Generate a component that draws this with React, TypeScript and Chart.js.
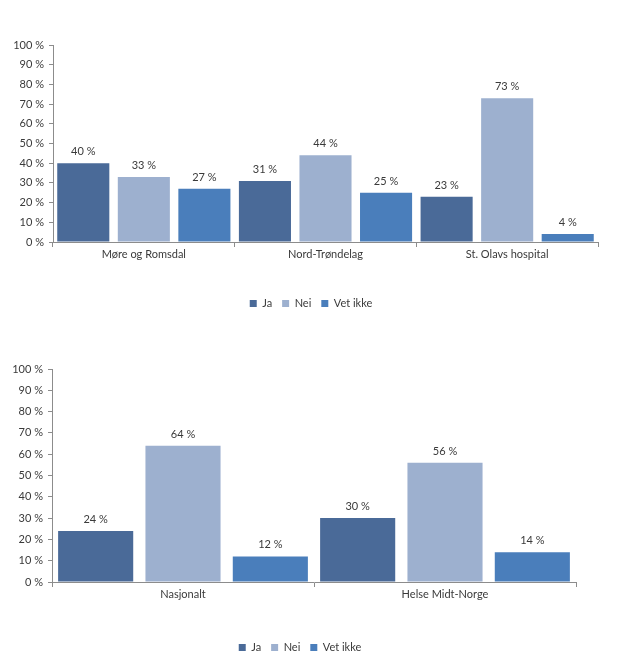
import React, { useEffect, useRef } from "react";
import { Chart, registerables } from "chart.js";

Chart.register(...registerables);

const seriesNames = ["Ja", "Nei", "Vet ikke"];
const seriesColors = ["#4a6a98", "#9db0cf", "#4a7ebb"];

const topCategories = ["Møre og Romsdal", "Nord-Trøndelag", "St. Olavs hospital"];
const topJa = [40, 31, 23];
const topNei = [33, 44, 73];
const topVetIkke = [27, 25, 4];

const bottomCategories = ["Nasjonalt", "Helse Midt-Norge"];
const bottomJa = [24, 30];
const bottomNei = [64, 56];
const bottomVetIkke = [12, 14];

const yMin = 0;
const yMax = 100;
const yStep = 10;

const FONT = "Lato";
const TEXT = "#3a3a3a";
const AXIS = "#8c8c8c";

const valueLabels = {
  id: "valueLabels",
  afterDatasetsDraw(chart: any) {
    const ctx = chart.ctx;
    ctx.save();
    ctx.font = `11px ${FONT}`;
    ctx.fillStyle = TEXT;
    ctx.textAlign = "center";
    ctx.textBaseline = "middle";
    chart.data.datasets.forEach((ds: any, i: number) => {
      const meta = chart.getDatasetMeta(i);
      meta.data.forEach((bar: any, j: number) => {
        ctx.fillText(`${ds.data[j]} %`, bar.x, bar.y - 11.5);
      });
    });
    ctx.restore();
  },
};

type Props = {
  categories: string[];
  values: number[][];
  width: number;
  height: number;
  padLeft: number;
  padRight: number;
  padTop: number;
  padBottom: number;
  yAxisWidth: number;
  rightFiller: number;
  xAxisHeight: number;
  xLabelPad: number;
};

function BarChart(p: Props) {
  const ref = useRef<HTMLCanvasElement | null>(null);
  useEffect(() => {
    if (!ref.current) return;
    const chart = new Chart(ref.current, {
      type: "bar",
      data: {
        labels: p.categories,
        datasets: seriesNames.map((name, i) => ({
          label: name,
          data: p.values[i],
          backgroundColor: seriesColors[i],
          borderWidth: 0,
          categoryPercentage: 1,
          barPercentage: 0.86,
          yAxisID: "y",
        })),
      },
      options: {
        responsive: false,
        animation: false,
        layout: {
          padding: { left: p.padLeft, right: p.padRight, top: p.padTop, bottom: p.padBottom },
        },
        plugins: {
          legend: {
            position: "bottom",
            labels: {
              boxWidth: 7,
              boxHeight: 7,
              padding: 10,
              color: TEXT,
              font: { family: FONT, size: 11 },
            },
          },
          tooltip: { enabled: false },
        },
        scales: {
          x: {
            grid: {
              display: true,
              drawOnChartArea: false,
              drawTicks: true,
              tickLength: 5,
              color: AXIS,
              offset: true,
            },
            border: { display: true, color: AXIS },
            ticks: {
              color: TEXT,
              font: { family: FONT, size: 11 },
              padding: p.xLabelPad,
              maxRotation: 0,
            },
            afterFit: (scale: any) => {
              scale.height = p.xAxisHeight;
            },
          },
          y: {
            min: yMin,
            max: yMax,
            grid: {
              display: true,
              drawOnChartArea: false,
              drawTicks: true,
              tickLength: 4,
              color: AXIS,
            },
            border: { display: true, color: AXIS },
            ticks: {
              stepSize: yStep,
              color: TEXT,
              font: { family: FONT, size: 11 },
              padding: 5,
              callback: (v: any) => `${v} %`,
            },
            afterFit: (scale: any) => {
              scale.width = p.yAxisWidth;
            },
          },
          filler: {
            type: "linear",
            position: "right",
            min: 0,
            max: 1,
            grid: { display: false },
            border: { display: false },
            ticks: { display: false },
            afterFit: (scale: any) => {
              scale.width = p.rightFiller;
            },
          },
        },
      },
      plugins: [valueLabels],
    } as any);
    return () => chart.destroy();
  }, []);
  return <canvas ref={ref} width={p.width} height={p.height} style={{ display: "block" }} />;
}

export default function App() {
  return (
    <div style={{ position: "absolute", left: 0, top: 0, width: 618, height: 667, background: "#fff", overflow: "hidden" }}>
      <div style={{ position: "absolute", left: 0, top: 0 }}>
        <BarChart
          categories={topCategories}
          values={[topJa, topNei, topVetIkke]}
          width={618}
          height={333}
          padLeft={12}
          padRight={8}
          padTop={45}
          padBottom={14}
          yAxisWidth={41}
          rightFiller={12}
          xAxisHeight={46}
          xLabelPad={1}
        />
      </div>
      <div style={{ position: "absolute", left: 0, top: 333 }}>
        <BarChart
          categories={bottomCategories}
          values={[bottomJa, bottomNei, bottomVetIkke]}
          width={618}
          height={334}
          padLeft={6}
          padRight={24}
          padTop={36}
          padBottom={4}
          yAxisWidth={46}
          rightFiller={18}
          xAxisHeight={50}
          xLabelPad={1}
        />
      </div>
    </div>
  );
}
